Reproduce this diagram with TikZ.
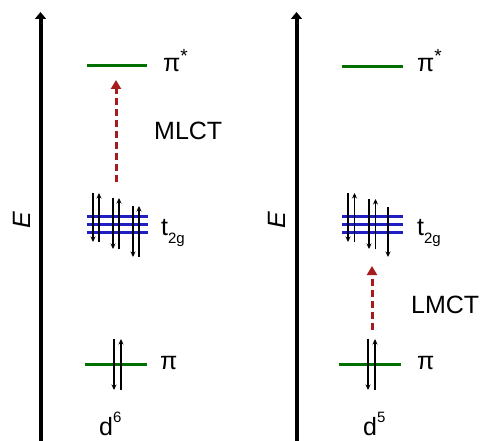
\documentclass[tikz,border=0pt]{standalone}
\usepackage{fontspec}
\setmainfont{Liberation Sans}
\usetikzlibrary{arrows.meta}
\definecolor{orbgreen}{RGB}{0,112,0}
\definecolor{orbblue}{RGB}{30,30,195}
\definecolor{ctred}{RGB}{165,28,28}
\newcommand{\starsup}{\raisebox{9pt}{\fontsize{19}{19}\selectfont *}}
\begin{document}
\begin{tikzpicture}[x=1pt,y=-1pt,
  axis/.style={line width=4pt,-{Triangle[length=7pt,width=11pt]}},
  piorb/.style={line width=3pt,orbgreen},
  dorb/.style={line width=3pt,orbblue},
  spin/.style={line width=1.8pt,-{Stealth[length=5.5pt,width=5pt]}},
  transfer/.style={line width=3pt,ctred,dash pattern=on 7pt off 4pt,
    -{Triangle[length=9pt,width=10pt]}},
  lbl/.style={font=\fontsize{25}{28}\selectfont,inner sep=0pt,anchor=base west},
  elbl/.style={font=\fontsize{25}{28}\selectfont\itshape,inner sep=0pt,rotate=90},
]
\useasboundingbox (0,0) rectangle (485,441);

% energy axes
\coordinate (axL0) at (40.5,446); \coordinate (axL1) at (40.5,12);
\coordinate (axR0) at (296.5,446); \coordinate (axR1) at (296.5,12);
\draw[axis] (axL0) -- (axL1);
\draw[axis] (axR0) -- (axR1);
\node[elbl] (EL) at (22,220) {E};
\node[elbl] (ER) at (277,220) {E};

% ---------- d6 complex ----------
\draw[piorb] (87,66) -- (147,66);
\node[lbl] (pisL) at (163,72) {π\starsup};
\foreach \y in {217,224.5,232} \draw[dorb] (87,\y) -- (148,\y);
\node[lbl] (tL) at (161,235) {t\raisebox{-9pt}{\fontsize{15}{15}\selectfont 2g}};
\draw[piorb] (85,364) -- (147,364);
\node[lbl] (piL) at (160,369) {π};
% electrons
\foreach \x/\a/\b in {93/193/242,113/198/249,133/206/257}{
  \draw[spin] (\x,\a) -- (\x,\b);
  \draw[spin] (\x+6,\b) -- (\x+6,\a);
}
\draw[spin] (114,339) -- (114,390);
\draw[spin] (121,390) -- (121,339);
\node[lbl] (dL) at (99,435) {d\raisebox{13pt}{\fontsize{15}{15}\selectfont 6}};
% MLCT transition
\coordinate (mlA) at (116,182); \coordinate (mlB) at (116,80);
\draw[transfer] (mlA) -- (mlB);
\node[lbl] (ml) at (154,140) {MLCT};

% ---------- d5 complex ----------
\draw[piorb] (342,67) -- (403,67);
\node[lbl] (pisR) at (417,72) {π\starsup};
\foreach \y in {217,224.5,232} \draw[dorb] (342,\y) -- (403,\y);
\node[lbl] (tR) at (417,235) {t\raisebox{-9pt}{\fontsize{15}{15}\selectfont 2g}};
\draw[piorb] (339,364) -- (401,364);
\node[lbl] (piR) at (417,369) {π};
% electrons
\foreach \x/\a/\b in {348/193/242,369/199/249}{
  \draw[spin] (\x,\a) -- (\x,\b);
  \draw[spin] (\x+6.5,\b) -- (\x+6.5,\a);
}
\draw[spin] (388,207) -- (388,257);
\draw[spin] (368,339) -- (368,390);
\draw[spin] (375,390) -- (375,339);
\node[lbl] (dR) at (363,435) {d\raisebox{13pt}{\fontsize{15}{15}\selectfont 5}};
% LMCT transition
\coordinate (lmA) at (372,330); \coordinate (lmB) at (372,266);
\draw[transfer] (lmA) -- (lmB);
\node[lbl] (lm) at (411,313) {LMCT};
\end{tikzpicture}
\end{document}
